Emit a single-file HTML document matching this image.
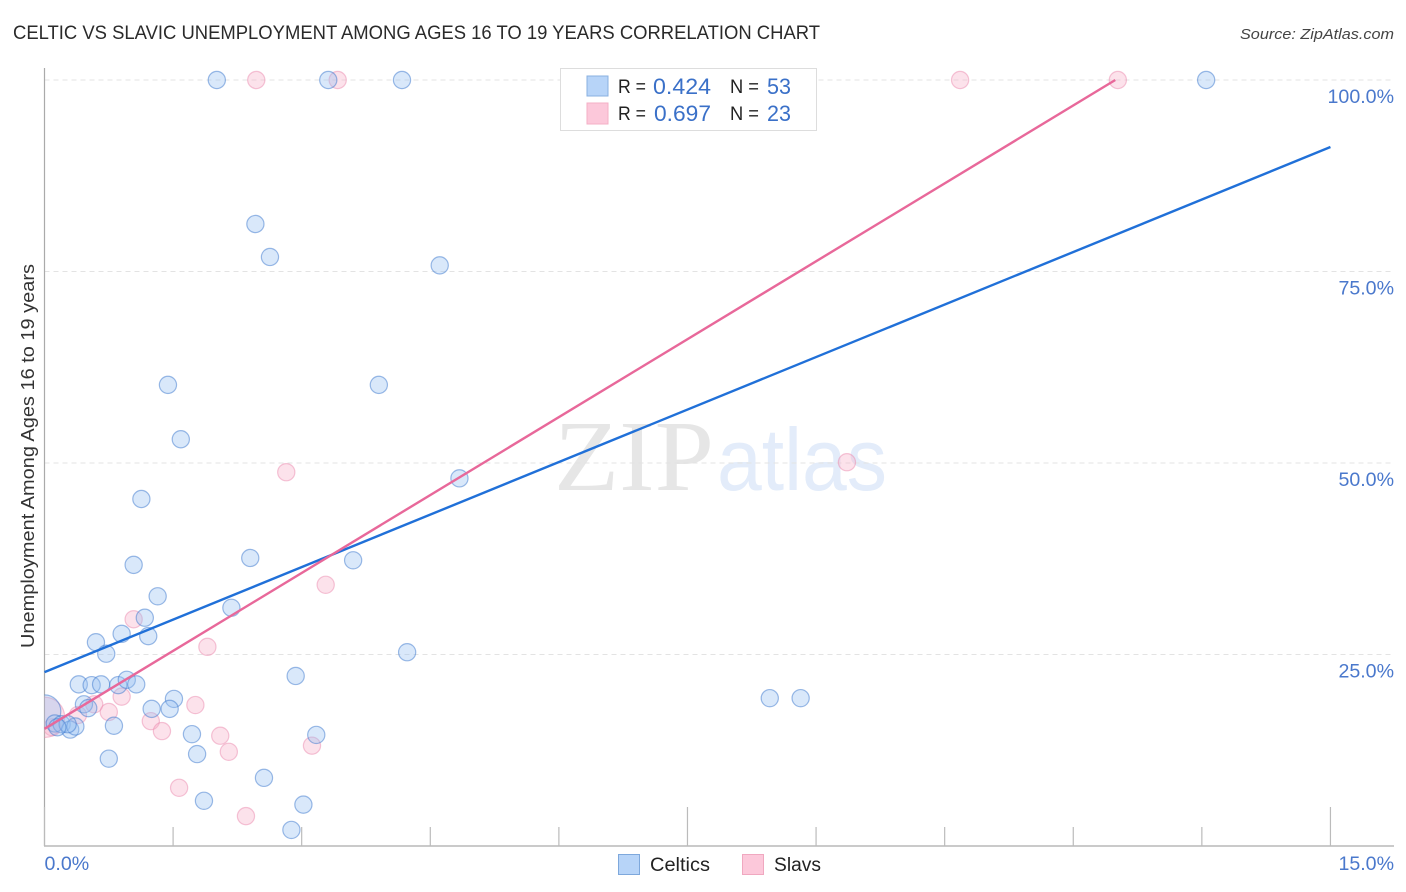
<!DOCTYPE html>
<html>
<head>
<meta charset="utf-8">
<title>Celtic vs Slavic Unemployment Chart</title>
<style>
html,body{margin:0;padding:0;background:#fff;}
svg{display:block;font-family:"Liberation Sans",sans-serif;}
</style>
</head>
<body>
<svg id="chart" xmlns="http://www.w3.org/2000/svg" width="1406" height="892" viewBox="0 0 1406 892">
  <text x="13" y="39" font-size="19" fill="#2a2a2a" textLength="807" lengthAdjust="spacingAndGlyphs">CELTIC VS SLAVIC UNEMPLOYMENT AMONG AGES 16 TO 19 YEARS CORRELATION CHART</text>
  <text x="1394" y="39" font-size="15" font-style="italic" fill="#444" text-anchor="end" textLength="154" lengthAdjust="spacingAndGlyphs">Source: ZipAtlas.com</text>
  <text x="554" y="490" font-family="'Liberation Serif',serif" font-size="101" fill="#e6e6e6" textLength="160" lengthAdjust="spacingAndGlyphs">ZIP</text>
  <text x="717" y="490" font-size="88" fill="#e3ecfa" textLength="170" lengthAdjust="spacingAndGlyphs">atlas</text>
  <g id="grid"></g>
  <g id="axes"></g>
  <g id="ticklabels"></g>
  <defs><clipPath id="plot-clip"><rect x="44.5" y="60" width="1350" height="786"/></clipPath></defs>
  <g id="points" clip-path="url(#plot-clip)"></g>
  <g id="lines"></g>
  <text transform="translate(34,456) rotate(-90)" font-size="18.5" fill="#333" text-anchor="middle" textLength="384" lengthAdjust="spacingAndGlyphs">Unemployment Among Ages 16 to 19 years</text>

  <g>
    <rect x="560.5" y="68.5" width="256" height="62" fill="#fff" stroke="#ddd" stroke-width="1"/>
    <rect x="587" y="76" width="21" height="20" fill="#b7d4f8" stroke="#8ab0e0" stroke-width="1"/>
    <rect x="587" y="103" width="21" height="21" fill="#fcc8da" stroke="#f4afc6" stroke-width="1"/>
    <text x="618" y="93" font-size="19" fill="#222" textLength="28" lengthAdjust="spacingAndGlyphs">R =</text>
    <text x="653" y="94" font-size="22" fill="#3a70c8" textLength="58" lengthAdjust="spacingAndGlyphs">0.424</text>
    <text x="730" y="93" font-size="19" fill="#222" textLength="29" lengthAdjust="spacingAndGlyphs">N =</text>
    <text x="767" y="94" font-size="22" fill="#3a70c8" textLength="24" lengthAdjust="spacingAndGlyphs">53</text>
    <text x="618" y="120" font-size="19" fill="#222" textLength="28" lengthAdjust="spacingAndGlyphs">R =</text>
    <text x="654" y="121" font-size="22" fill="#3a70c8" textLength="57" lengthAdjust="spacingAndGlyphs">0.697</text>
    <text x="730" y="120" font-size="19" fill="#222" textLength="29" lengthAdjust="spacingAndGlyphs">N =</text>
    <text x="767" y="121" font-size="22" fill="#3a70c8" textLength="24" lengthAdjust="spacingAndGlyphs">23</text>
  </g>

  <g>
    <rect x="618.5" y="854.5" width="21" height="20" fill="#b7d4f8" stroke="#7ea8dc" stroke-width="1"/>
    <text x="650" y="871" font-size="19" fill="#222" textLength="60" lengthAdjust="spacingAndGlyphs">Celtics</text>
    <rect x="742.5" y="854.5" width="21" height="20" fill="#fcc8da" stroke="#f0a8c0" stroke-width="1"/>
    <text x="774" y="871" font-size="19" fill="#222" textLength="47" lengthAdjust="spacingAndGlyphs">Slavs</text>
  </g>
</svg>
<script>
const celticsX = [2.01,3.31,4.17,13.55,2.46,2.63,4.61,1.44,3.90,1.59,4.84,1.13,2.40,3.60,1.04,1.32,2.18,1.17,0.90,1.21,0.60,0.72,4.23,2.93,0.40,0.55,0.66,0.86,0.96,1.07,8.46,8.82,1.51,0.46,0.51,1.25,1.46,0.81,1.72,3.17,1.78,0.75,2.56,1.86,3.02,2.88,0.00,0.12,0.20,0.30,0.36,0.27,0.15];
const celticsY = [100,100,100,100,81.2,76.9,75.8,60.2,60.2,53.1,48.0,45.3,37.6,37.3,36.7,32.6,31.1,29.8,27.7,27.4,26.6,25.1,25.3,22.2,21.1,21.0,21.1,21.0,21.7,21.1,19.3,19.3,19.2,18.5,18.0,17.9,17.9,15.7,14.6,14.5,12.0,11.4,8.9,5.9,5.4,2.1,17.6,16.0,15.9,15.2,15.6,15.9,15.5];
const celticsWeight = [1,1,1,1,1,1,1,1,1,1,1,1,1,1,1,1,1,1,1,1,1,1,1,1,1,1,1,1,1,1,1,1,1,1,1,1,1,1,1,1,1,1,1,1,1,1,3.6,1,1,1,1,1,1];
const slavsX = [2.47,3.42,10.68,12.52,9.36,2.82,3.28,1.04,1.90,0.90,1.76,0.58,0.75,0.39,1.24,1.37,2.05,2.15,3.12,1.57,2.35,0.09,0.00];
const slavsY = [100,100,100,100,50.1,48.8,34.1,29.6,26.0,19.5,18.4,18.5,17.5,17.1,16.3,15.0,14.4,12.3,13.1,7.6,3.9,15.5,16.8];
const slavsWeight = [1,1,1,1,1,1,1,1,1,1,1,1,1,1,1,1,1,1,1,1,1,1,5.5];
const celticsTrendX = [0,15];
const celticsTrendY = [22.7,91.25];
const slavsTrendX = [0,12.49];
const slavsTrendY = [15.3,100];
const yTickValues = [25,50,75,100];
const yTickLabels = ["25.0%","50.0%","75.0%","100.0%"];
const xTickValues = [0,1.5,3,4.5,6,7.5,9,10.5,12,13.5,15];
const xTickMajor = [0,7.5,15];
const xEndValues = [0,15];
const xEndLabels = ["0.0%","15.0%"];

const NS = "http://www.w3.org/2000/svg";
const xScale = v => 44.5 + v * 85.73;
const yScale = v => 846 - v * 7.66;
function make(tag, parent, attrs) {
  const el = document.createElementNS(NS, tag);
  for (const k in attrs) el.setAttribute(k, attrs[k]);
  document.getElementById(parent).appendChild(el);
  return el;
}

yTickValues.forEach((v, i) => {
  const g = make("line", "grid", {x1:44.5, x2:1394, y1:yScale(v), y2:yScale(v), stroke:"#e3e3e3", "stroke-width":1, "stroke-dasharray":"5 4"});
  
  
  const t = make("text", "ticklabels", {x:1394, y:yScale(v)+23, "font-size":19.6, fill:"#4a78cc", "text-anchor":"end"});
  t.textContent = yTickLabels[i];
  
  
});

const leftAxis = make("line", "axes", {x1:44.5, x2:44.5, y1:68, y2:846, stroke:"#aaa", "stroke-width":1.2});


const bottomAxis = make("line", "axes", {x1:44, x2:1394, y1:846, y2:846, stroke:"#aaa", "stroke-width":1.2});



xTickValues.forEach(v => {
  const top = xTickMajor.includes(v) ? 807 : 827;
  const tick = make("line", "axes", {x1:xScale(v), x2:xScale(v), y1:top, y2:846, stroke:"#bbb", "stroke-width":1.2});
  
  
});

xEndValues.forEach((v, i) => {
  const t = make("text", "ticklabels", {x: i === 0 ? xScale(v) : 1394, y:870, "font-size":19.6, fill:"#4a78cc", "text-anchor": i === 0 ? "start" : "end"});
  t.textContent = xEndLabels[i];
  
  
});

slavsX.forEach((v, i) => {
  const c = make("circle", "points", {cx:xScale(v), cy:yScale(slavsY[i]), r:8.6*Math.sqrt(slavsWeight[i]), fill:"rgba(248,175,200,0.36)", stroke:"rgba(236,140,175,0.5)", "stroke-width":1.2});
  
  
});
celticsX.forEach((v, i) => {
  const c = make("circle", "points", {cx:xScale(v), cy:yScale(celticsY[i]), r:8.6*Math.sqrt(celticsWeight[i]), fill:"rgba(150,190,240,0.36)", stroke:"rgba(60,120,205,0.5)", "stroke-width":1.2});
  
  
});

const celticLine = make("line", "lines", {x1:xScale(celticsTrendX[0]), y1:yScale(celticsTrendY[0]), x2:xScale(celticsTrendX[1]), y2:yScale(celticsTrendY[1]), stroke:"#2070d8", "stroke-width":2.4});


const slavLine = make("line", "lines", {x1:xScale(slavsTrendX[0]), y1:yScale(slavsTrendY[0]), x2:xScale(slavsTrendX[1]), y2:yScale(slavsTrendY[1]), stroke:"#e8689a", "stroke-width":2.4});


</script>
</body>
</html>
